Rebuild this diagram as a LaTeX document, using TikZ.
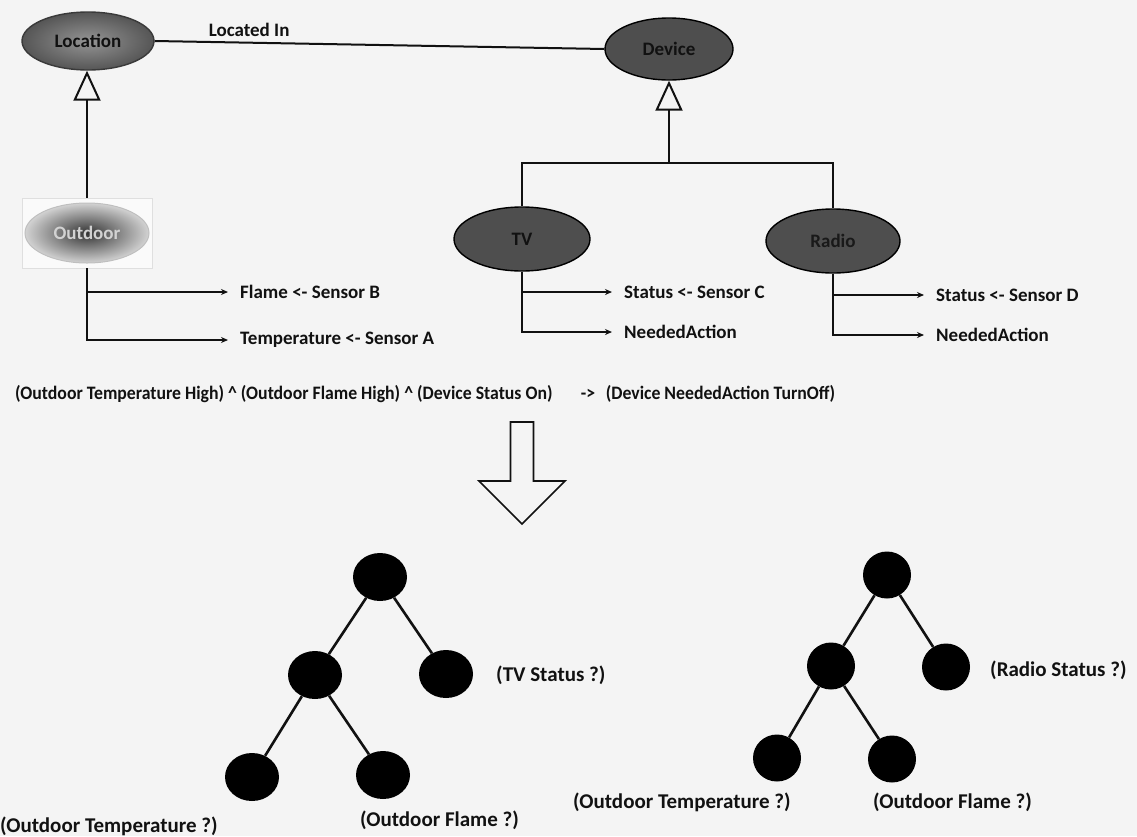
\documentclass[tikz,border=0pt]{standalone}
\usepackage{fontspec}
\usepackage{graphicx}
\setmainfont{Carlito}
\usetikzlibrary{shapes.geometric,arrows.meta}

\definecolor{paper}{HTML}{F4F4F4}
\definecolor{classfill}{HTML}{4E4E4E}
\definecolor{locfill}{HTML}{7A7A7A}
\definecolor{locedge}{HTML}{3A3A3A}
\definecolor{ink}{HTML}{111111}

\begin{document}
\begin{tikzpicture}[x=1pt,y=-1pt,
  font=\fontsize{19}{21}\selectfont\bfseries,
  link/.style={draw=ink, line width=2pt},
  feed/.style={link, -{Stealth[length=7pt,width=6pt]}},
  isa/.style={link, -{Triangle[open,length=30pt,width=27pt,line width=2pt]}},
  branch/.style={draw=ink, line width=2.6pt},
  classnode/.style={ellipse, draw=black, line width=1.4pt, fill=classfill,
    text=ink, inner sep=0pt},
  lbl/.style={anchor=west, inner xsep=12pt, inner ysep=0pt, text=ink},
  treelbl/.style={inner sep=0pt, text=ink, font=\fontsize{21}{23}\selectfont\bfseries},
  ball/.style={ellipse, fill=black, inner sep=0pt},
]
% page background and bounding box
\fill[paper] (0,0) rectangle (1137,836);
\useasboundingbox (0,0) rectangle (1137,836);

% ---------- upper ontology ----------
\node[ellipse, draw=locedge, line width=1.4pt, inner sep=0pt,
  inner color=locfill!80!white, outer color=locfill!70!black,
  minimum width=132pt, minimum height=58pt, text=ink] (loc) at (88,41) {Location};
\node[classnode, minimum width=128pt, minimum height=62pt] (dev) at (669,49) {Device};
\draw[link] (loc.east) -- (dev.west)
  node[pos=0.21, above=5pt, inner sep=0pt, text=ink] (locin) {Located In};

% Outdoor subclass (framed picture)
\node[draw=gray!25, fill=white!96!gray, line width=0.8pt,
  minimum width=130pt, minimum height=70pt, inner sep=0pt] (out) at (87,233) {};
\node[ellipse, draw=gray!50, line width=1pt, inner sep=0pt,
  inner color=black!80, outer color=gray!35,
  minimum width=124pt, minimum height=60pt, text=gray!35] (outv) at (out.center) {Outdoor};
\draw[isa] (out.north) -- (out.north |- loc.south);

% Device subclasses
\node[classnode, minimum width=136pt, minimum height=64pt] (tv) at (522,239) {TV};
\node[classnode, minimum width=134pt, minimum height=64pt, text=black!90] (radio) at (833,241) {Radio};
\coordinate (bar) at (669,163);
\draw[isa] (bar) -- (dev.south);
\draw[link] (tv.north) -- (tv.north |- bar) -- (radio.north |- bar) -- (radio.north);

% attributes of Outdoor
\node[lbl] (flame) at (228,292) {Flame <- Sensor B};
\node[lbl] (temp) at (228,340) {Temperature <- Sensor A};
\draw[feed] (out.south) |- (temp.west);
\draw[feed] (out.south |- flame.west) -- (flame.west);

% attributes of TV
\node[lbl] (tvs) at (612,292) {Status <- Sensor C};
\node[lbl] (tvn) at (612,332) {NeededAction};
\draw[feed] (tv.south) |- (tvn.west);
\draw[feed] (tv.south |- tvs.west) -- (tvs.west);

% attributes of Radio
\node[lbl] (rds) at (924,295) {Status <- Sensor D};
\node[lbl] (rdn) at (924,335) {NeededAction};
\draw[feed] (radio.south) |- (rdn.west);
\draw[feed] (radio.south |- rds.west) -- (rds.west);

% ---------- rule ----------
\node[anchor=west, inner sep=0pt, text=ink] (rule) at (15,394)
  {\resizebox{820pt}{\height}{(Outdoor Temperature High) \^{} (Outdoor Flame High) \^{} (Device Status On)\hspace{1.6em}->\hspace{0.6em}(Device NeededAction TurnOff)}};

% hollow block arrow
\draw[draw=ink, line width=1.7pt, fill=paper]
  (510.5,422) -- (533.5,422) -- (533.5,481) -- (565,481) -- (522,524)
  -- (479,481) -- (510.5,481) -- cycle;

% ---------- decision tree for TV ----------
\node[ball, minimum width=54pt, minimum height=48pt] (t1r) at (380,577) {};
\node[ball, minimum width=54pt, minimum height=48pt] (t1a) at (315,675) {};
\node[ball, minimum width=54pt, minimum height=48pt] (t1b) at (446,674) {};
\node[ball, minimum width=54pt, minimum height=48pt] (t1c) at (252,777) {};
\node[ball, minimum width=54pt, minimum height=48pt] (t1d) at (383,775) {};
\draw[branch] (t1r) -- (t1a);
\draw[branch] (t1r) -- (t1b);
\draw[branch] (t1a) -- (t1c);
\draw[branch] (t1a) -- (t1d);
\node[treelbl, anchor=west] (t1bl) at (496,675) {(TV Status ?)};
\node[treelbl, anchor=west] (t1cl) at (0,826) {(Outdoor Temperature ?)};
\node[treelbl, anchor=west] (t1dl) at (360,820) {(Outdoor Flame ?)};

% ---------- decision tree for Radio ----------
\node[ball, minimum width=48pt, minimum height=47pt] (t2r) at (887,575) {};
\node[ball, minimum width=48pt, minimum height=47pt] (t2a) at (831,666) {};
\node[ball, minimum width=48pt, minimum height=47pt] (t2b) at (946,667) {};
\node[ball, minimum width=48pt, minimum height=47pt] (t2c) at (777,758) {};
\node[ball, minimum width=48pt, minimum height=47pt] (t2d) at (892,759) {};
\draw[branch] (t2r) -- (t2a);
\draw[branch] (t2r) -- (t2b);
\draw[branch] (t2a) -- (t2c);
\draw[branch] (t2a) -- (t2d);
\node[treelbl, anchor=west] (t2bl) at (990,670) {(Radio Status ?)};
\node[treelbl, anchor=west] (t2cl) at (573,802) {(Outdoor Temperature ?)};
\node[treelbl, anchor=west] (t2dl) at (873,802) {(Outdoor Flame ?)};
\end{tikzpicture}
\end{document}
